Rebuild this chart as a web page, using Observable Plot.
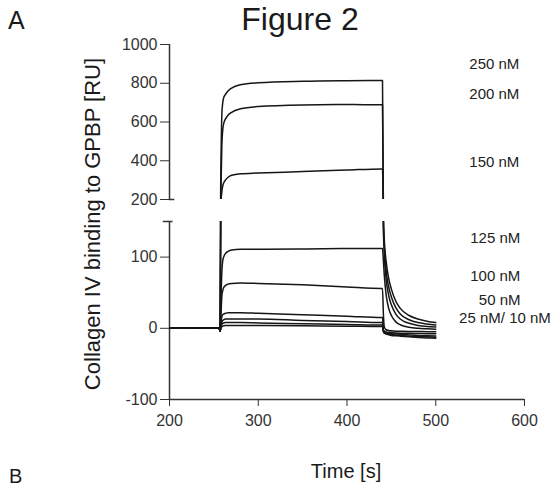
<!DOCTYPE html>
<html>
<head>
<meta charset="utf-8">
<script src="https://cdn.jsdelivr.net/npm/d3@7"></script>
<script src="https://cdn.jsdelivr.net/npm/@observablehq/plot@0.6"></script>
<style>
  html, body { margin: 0; padding: 0; background: #fff; overflow: hidden; }
  #wrap { position: relative; width: 556px; height: 488px; overflow: hidden;
          font-family: "Liberation Sans", Arial, Helvetica, sans-serif; color: #1a1a1a; }
  .abs { position: absolute; line-height: 1; white-space: nowrap; }
  #top, #bottom { position: absolute; left: 0; }
  #top { top: 0; }
  #bottom { top: 210px; }
</style>
</head>
<body>
<div id="wrap">
  <div class="abs" style="left:8px; top:8px; font-size:25px;">A</div>
  <div class="abs" style="left:200px; top:3px; width:200px; text-align:center; font-size:32px;">Figure 2</div>
  <div id="top"></div>
  <div id="bottom"></div>
  <div class="abs" style="left:-107px; top:213px; width:400px; height:22px; text-align:center; font-size:22px; transform:rotate(-90deg);">Collagen IV binding to GPBP [RU]</div>
  <div class="abs" style="left:246px; top:461px; width:200px; text-align:center; font-size:20px;">Time [s]</div>
  <div class="abs" style="left:9px; top:466px; font-size:20px;">B</div>
</div>
<script>
// ---- data ----
const time = [200, 230, 256, 257, 258, 259, 260, 261, 263, 266, 270, 280, 300, 350, 400, 439, 440, 441, 442, 444, 447, 450, 455, 460, 470, 480, 490, 500];
const seriesNames = ["250 nM", "200 nM", "150 nM", "125 nM", "100 nM", "50 nM", "25 nM", "10 nM", "5 nM"];
const s250 = [0, 0.5, 0, -4, 400, 640, 700, 725, 742, 760, 775, 792, 802, 810, 813, 814, 814, 160, 125, 95, 70, 55, 38, 28, 18, 13, 10, 8];
const s200 = [0, 0.5, 0, -4, 250, 480, 560, 590, 615, 635, 650, 668, 680, 688, 690, 689, 689, 150, 115, 82, 58, 44, 29, 20, 12, 8, 6, 4.5];
const s150 = [0, 0.5, 0, -4, 180, 240, 270, 285, 300, 315, 325, 333, 337, 344, 352, 358, 358, 140, 105, 70, 46, 33, 20, 13, 7, 4, 2.5, 1.8];
const s125 = [0, 0.5, 0, -4, 40, 80, 95, 100, 105, 108, 110, 111, 111, 111.5, 112, 112, 112, 95, 75, 48, 28, 18, 9, 5, 1.5, 0, -0.8, -1.4];
const s100 = [0, 0.5, 0, -4, 20, 45, 53, 57, 60, 62, 63, 63.5, 63, 61, 58, 56, 56, 20, 2, -2, -3, -3.5, -4, -4.2, -4.5, -4.6, -4.7, -4.8];
const s50  = [0, 0.5, 0, -4, 8, 16, 19, 20, 21, 22, 22, 22, 21, 19, 17, 15, 15, -2, -4, -5, -5.5, -6, -6.5, -6.8, -7, -7.3, -7.5, -7.6];
const s25  = [0, 0.5, 0, -4, 4, 9, 11, 12, 13, 13, 13, 13, 13, 11, 9.5, 8, 8, -3, -5, -6, -7, -7.5, -8, -8.5, -9.3, -10, -10.5, -10.8];
const s10  = [0, 0.5, 0, -4, 2, 5, 7, 7.5, 8, 8, 8, 8, 7.5, 6.5, 5.5, 4.5, 4.5, -4, -6, -7, -8, -8.5, -9.5, -10, -11, -11.5, -12, -12.5];
const s5   = [0, 0.5, 0, -4, 0, 2, 3, 3.5, 4, 4, 4, 4, 4, 3.5, 3, 2.5, 2.5, -5, -7, -8, -9, -10, -10.5, -11, -12, -13, -13.5, -14];
const xTicks = [200, 300, 400, 500, 600];
const yTicksTop = [200, 400, 600, 800, 1000];
const yTicksBottom = [-100, 0, 100];
const topLabels = ["250 nM", "200 nM", "150 nM"];
const bottomLabels = ["125 nM", "100 nM", "50 nM", "25 nM/ 10 nM"];

// ---- build long table ----
const allSeries = [s250, s200, s150, s125, s100, s50, s25, s10, s5];
const rows = [];
allSeries.forEach((vals, i) => vals.forEach((v, j) => rows.push({series: seriesNames[i], t: time[j], v})));

// label anchors (layout, data units)
const topLabelPos = [[566, 897], [566, 742], [566, 392]];
const bottomLabelPos = [[567, 126], [567, 73], [572, 39], [578, 14]];
const topLabelRows = topLabels.map((s, i) => ({s, x: topLabelPos[i][0], y: topLabelPos[i][1]}));
const bottomLabelRows = bottomLabels.map((s, i) => ({s, x: bottomLabelPos[i][0], y: bottomLabelPos[i][1]}));

const font = '"Liberation Sans", Arial, Helvetica, sans-serif';
const common = {
  width: 556,
  marginLeft: 169,
  marginRight: 32,
  style: {fontFamily: font, fontSize: "16px", color: "#333", background: "transparent", overflow: "visible"}
};
const lineOpts = {x: "t", y: "v", z: "series", stroke: "#161616", strokeWidth: 1.5, curve: "monotone-x", clip: true};
const fmt = d => String(d);

const topPlot = Plot.plot({
  ...common,
  height: 210,
  marginTop: 44,
  marginBottom: 11,
  x: {domain: [200, 600], axis: null},
  y: {domain: [200, 1000], ticks: yTicksTop, tickSize: 9, tickPadding: 3, label: null, tickFormat: fmt},
  marks: [
    Plot.ruleX([200], {y1: 200, y2: 1000, stroke: "#333", strokeWidth: 1.5}),
    Plot.ruleY([200], {x1: 200, x2: 206, stroke: "#333", strokeWidth: 1.5}),
    Plot.line(rows, lineOpts),
    Plot.text(topLabelRows, {x: "x", y: "y", text: "s", fontSize: 15, fill: "#222"})
  ]
});

const bottomPlot = Plot.plot({
  ...common,
  height: 250,
  marginTop: 11,
  marginBottom: 61,
  x: {domain: [200, 600], ticks: xTicks, tickSize: 7, tickPadding: 8, label: null, tickFormat: fmt},
  y: {domain: [-100, 150], ticks: yTicksBottom, tickSize: 9, tickPadding: 3, label: null, tickFormat: fmt},
  marks: [
    Plot.ruleX([200], {y1: -100, y2: 150, stroke: "#333", strokeWidth: 1.5}),
    Plot.ruleY([150], {x1: 193, x2: 204, stroke: "#333", strokeWidth: 1.5}),
    Plot.ruleY([-100], {x1: 200, x2: 600, stroke: "#333", strokeWidth: 1.5}),
    Plot.line(rows, lineOpts),
    Plot.text(bottomLabelRows, {x: "x", y: "y", text: "s", fontSize: 15, fill: "#222"})
  ]
});

document.getElementById("top").appendChild(topPlot);
document.getElementById("bottom").appendChild(bottomPlot);
</script>
</body>
</html>
